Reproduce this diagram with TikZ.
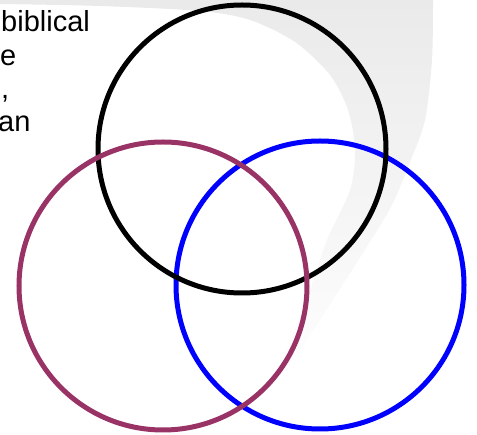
\documentclass[tikz,border=0pt]{standalone}
\usepackage{fontspec}
\setmainfont{Liberation Sans}
\definecolor{swoosh}{RGB}{234,234,234}
\definecolor{plum}{RGB}{153,51,102}
\begin{document}
\begin{tikzpicture}[x=1pt,y=-1pt,
  ring/.style={circle,draw,line width=5pt,inner sep=0pt,minimum size=288pt},
  frag/.style={anchor=base west,inner sep=0pt,font=\fontsize{29}{33}\selectfont}]
\useasboundingbox (0,0) rectangle (477,435);
\shade[top color=swoosh,middle color=swoosh,bottom color=white] plot[smooth] coordinates {(433,0) (432,60) (425,120) (410,162) (392,205) (368,245) (338,292) (300,350) (265,395)}
  -- plot[smooth] coordinates {(265,395) (287,348) (307,298) (327,240) (350,190) (355,150) (348,110) (330,75) (295,42) (250,20) (200,11) (100,6) (0,4)}
  -- (0,0) -- cycle;
\node[frag] (t1) at (1,32) {biblical};
\node[frag] (t2) at (0,66) {e};
\node[frag] (t3) at (1,99) {,};
\node[frag] (t4) at (-2,132) {an};
\node[ring,draw=blue] (blue) at (320,285) {};
\node[ring,draw=black] (black) at (242,149) {};
\node[ring,draw=plum] (plum) at (163,286) {};
\end{tikzpicture}
\end{document}
